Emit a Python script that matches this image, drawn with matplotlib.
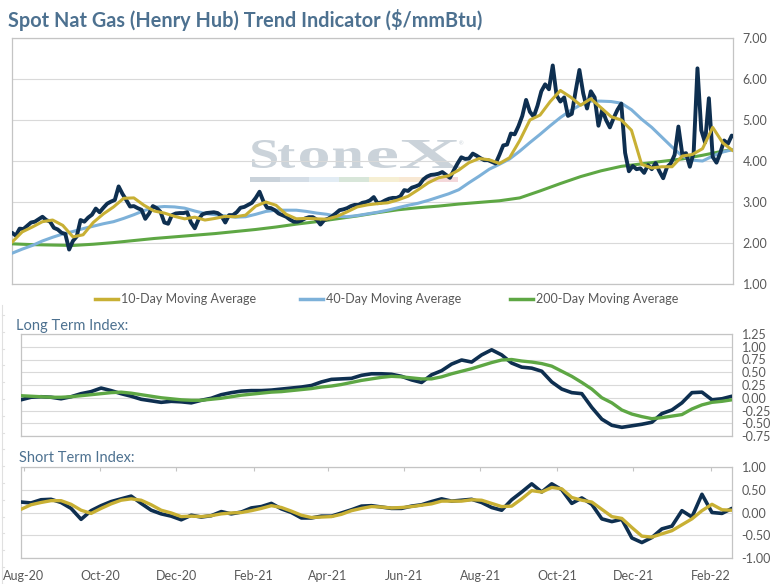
import numpy as np
import pandas as pd
import matplotlib
matplotlib.use('Agg')
import matplotlib.pyplot as plt
import matplotlib.dates as mdates
from matplotlib.ticker import FormatStrFormatter
from matplotlib.textpath import TextPath
from matplotlib.patches import PathPatch, Rectangle
from matplotlib.font_manager import FontProperties
from matplotlib.transforms import Affine2D
from matplotlib.lines import Line2D

plt.rcParams['font.family'] = ['Lato', 'DejaVu Sans']
plt.rcParams['axes.unicode_minus'] = False

# ---------------- data ----------------
START = '2020-07-30'
END = '2022-02-18'

title = 'Spot Nat Gas (Henry Hub) Trend Indicator ($/mmBtu)'
series_names = ['10-Day Moving Average', '40-Day Moving Average', '200-Day Moving Average']

# spot price, every 3 days
spot = [2.25, 2.18, 2.35, 2.34, 2.42, 2.5, 2.52, 2.58, 2.64, 2.56,
        2.52, 2.37, 2.33, 2.25, 2.22, 1.84, 2.05, 2.16, 2.56, 2.52,
        2.62, 2.69, 2.84, 2.75, 2.86, 2.96, 3.01, 3.05, 3.38, 3.2,
        3.05, 2.89, 2.9, 2.85, 2.81, 2.59, 2.72, 2.9, 2.85, 2.76,
        2.5, 2.47, 2.68, 2.72, 2.73, 2.73, 2.75, 2.5, 2.36, 2.58,
        2.7, 2.73, 2.74, 2.75, 2.73, 2.66, 2.5, 2.68, 2.68, 2.75,
        2.86, 2.88, 2.93, 2.98, 3.1, 3.25, 3.02, 2.86, 2.85, 2.8,
        2.72, 2.68, 2.64, 2.57, 2.52, 2.52, 2.55, 2.6, 2.63, 2.63,
        2.57, 2.45, 2.56, 2.59, 2.65, 2.72, 2.8, 2.82, 2.85, 2.9,
        2.93, 2.93, 2.98, 3.0, 3.04, 3.12, 2.97, 2.99, 3.04, 3.08,
        3.1, 3.1, 3.14, 3.29, 3.27, 3.35, 3.38, 3.42, 3.55, 3.62,
        3.66, 3.67, 3.69, 3.73, 3.66, 3.59, 3.77, 3.94, 4.09, 4.05,
        4.06, 4.18, 4.13, 4.07, 4.02, 4.02, 3.98, 3.94, 4.15, 4.38,
        4.4, 4.67, 4.65, 4.85, 5.1, 5.49, 5.2, 5.08, 5.35, 5.7,
        5.87, 5.75, 6.33, 5.6, 5.45, 5.55, 5.1, 5.15, 5.7, 6.22,
        5.65, 5.28, 5.7, 5.55, 4.86, 5.25, 5.0, 4.82, 5.05, 5.25,
        5.4, 4.2, 3.75, 3.88, 3.8, 3.82, 3.71, 3.9, 3.8, 3.95,
        3.75, 3.58, 3.85, 3.94, 4.15, 4.84, 4.17, 4.19, 3.86, 4.2,
        6.26, 4.75, 4.45, 5.53, 4.1, 3.96, 4.2, 4.5, 4.42, 4.62,
        4.58]

# moving averages, every 8 days
ma10 = [2.02, 2.27, 2.39, 2.52, 2.56, 2.43, 2.15, 2.2, 2.5, 2.71,
        2.88, 3.09, 3.1, 2.92, 2.78, 2.73, 2.65, 2.59, 2.63, 2.56,
        2.6, 2.65, 2.64, 2.68, 2.9, 3.0, 2.92, 2.7, 2.59, 2.6,
        2.59, 2.58, 2.65, 2.76, 2.88, 2.93, 2.96, 2.98, 3.05, 3.14,
        3.3, 3.47, 3.59, 3.64, 3.78, 3.96, 4.06, 4.03, 3.94, 4.08,
        4.5, 5.0, 5.12, 5.45, 5.72, 5.56, 5.36, 5.52, 5.3, 5.08,
        5.0, 4.75, 3.92, 3.83, 3.86, 3.86, 4.12, 4.16, 4.3, 4.82,
        4.44, 4.25]

ma40 = [1.75, 1.85, 1.94, 2.05, 2.14, 2.22, 2.28, 2.35, 2.41, 2.47,
        2.52, 2.6, 2.69, 2.79, 2.87, 2.89, 2.88, 2.85, 2.78, 2.72,
        2.69, 2.66, 2.63, 2.64, 2.7, 2.77, 2.8, 2.8, 2.8, 2.77,
        2.73, 2.7, 2.65, 2.64, 2.67, 2.71, 2.75, 2.8, 2.86, 2.92,
        2.97, 3.04, 3.12, 3.2, 3.3, 3.47, 3.63, 3.8, 3.92, 4.05,
        4.24, 4.45, 4.65, 4.86, 5.06, 5.23, 5.37, 5.46, 5.46, 5.45,
        5.41, 5.25, 5.02, 4.82, 4.58, 4.34, 4.12, 4.02, 4.0, 4.12,
        4.22, 4.28]

# 200-day average, every 16 days
ma200 = [1.98, 1.96, 1.95, 1.94, 1.97, 2.01, 2.06, 2.11, 2.15, 2.19,
         2.23, 2.28, 2.33, 2.39, 2.46, 2.52, 2.59, 2.66, 2.74, 2.81,
         2.86, 2.9, 2.95, 2.99, 3.03, 3.1, 3.27, 3.45, 3.62, 3.76,
         3.87, 3.93, 3.99, 4.05, 4.14, 4.24, 4.32]

# indices, every 8 days
long_idx = [-0.04, 0.01, 0.02, 0.01, -0.02, 0.02, 0.08, 0.12, 0.19, 0.14,
            0.08, 0.03, -0.03, -0.06, -0.09, -0.07, -0.08, -0.1, -0.05, -0.01,
            0.06, 0.1, 0.13, 0.14, 0.14, 0.15, 0.17, 0.19, 0.21, 0.24,
            0.31, 0.36, 0.37, 0.38, 0.44, 0.47, 0.47, 0.46, 0.42, 0.35,
            0.3, 0.45, 0.53, 0.66, 0.74, 0.7, 0.84, 0.94, 0.84, 0.68,
            0.6, 0.58, 0.52, 0.31, 0.17, 0.1, 0.08, -0.19, -0.42, -0.54,
            -0.58, -0.55, -0.52, -0.48, -0.31, -0.24, -0.1, 0.1, 0.11, -0.04,
            -0.02, 0.03]

long_sig = [0.04, 0.03, 0.02, 0.01, 0.01, 0.02, 0.04, 0.06, 0.08, 0.1,
            0.11, 0.09, 0.06, 0.03, 0.0, -0.02, -0.04, -0.05, -0.05, -0.03,
            -0.01, 0.02, 0.05, 0.07, 0.09, 0.11, 0.12, 0.14, 0.16, 0.18,
            0.21, 0.23, 0.26, 0.3, 0.34, 0.37, 0.4, 0.42, 0.41, 0.39,
            0.37, 0.37, 0.41, 0.47, 0.52, 0.57, 0.63, 0.69, 0.74, 0.75,
            0.72, 0.7, 0.67, 0.62, 0.52, 0.42, 0.3, 0.17, 0.0, -0.1,
            -0.24, -0.32, -0.37, -0.41, -0.39, -0.36, -0.33, -0.22, -0.14, -0.09,
            -0.07, -0.04]

short_idx = [0.23, 0.21, 0.28, 0.29, 0.22, 0.09, -0.15, 0.04, 0.15, 0.24,
             0.3, 0.36, 0.2, 0.05, -0.03, -0.08, -0.16, -0.06, -0.1, -0.07,
             0.02, -0.03, 0.01, 0.1, 0.13, 0.2, 0.08, 0.0, -0.12, -0.12,
             -0.08, -0.08, -0.01, 0.06, 0.14, 0.15, 0.12, 0.09, 0.09, 0.14,
             0.17, 0.24, 0.3, 0.25, 0.27, 0.29, 0.22, 0.11, 0.05, 0.28,
             0.45, 0.63, 0.45, 0.63, 0.5, 0.2, 0.32, 0.18, -0.14, -0.2,
             -0.15, -0.56, -0.66, -0.55, -0.36, -0.3, 0.04, -0.1, 0.4, 0.0,
             -0.02, 0.09]

short_sig = [0.07, 0.17, 0.22, 0.26, 0.26, 0.18, 0.05, -0.02, 0.09, 0.19,
             0.27, 0.3, 0.27, 0.17, 0.05, -0.01, -0.09, -0.08, -0.09, -0.07,
             -0.03, -0.01, 0.0, 0.04, 0.09, 0.15, 0.11, 0.03, -0.06, -0.11,
             -0.1, -0.09, -0.04, 0.04, 0.09, 0.13, 0.12, 0.1, 0.11, 0.13,
             0.16, 0.19, 0.25, 0.25, 0.25, 0.28, 0.27, 0.2, 0.13, 0.14,
             0.3, 0.48, 0.45, 0.55, 0.52, 0.33, 0.27, 0.23, 0.07, -0.09,
             -0.13, -0.33, -0.52, -0.54, -0.47, -0.4, -0.27, -0.14, 0.04, 0.18,
             0.06, 0.05]

spot_dates = pd.date_range(START, periods=len(spot), freq='3D')
ma_dates = pd.date_range(START, periods=len(ma10), freq='8D')
ma200_dates = pd.date_range(START, periods=len(ma200), freq='16D')
idx_dates = pd.date_range(START, periods=len(long_idx), freq='8D')

# ---------------- style ----------------
NAVY = '#0e2f50'
GOLD = '#c8b034'
LBLUE = '#7db1d9'
GREEN = '#5ea744'
TXT = '#595959'
TITLE_C = '#4d7190'
GRID = '#d9d9d9'
SPINE = '#c4c4c4'

W, H = 784, 584
def fx(px):
    return px / W
def fy(py):
    return 1 - py / H

fig = plt.figure(figsize=(W / 100, H / 100), dpi=100)

def box(l, t, r, b):
    return [fx(l), fy(b), (r - l) / W, (b - t) / H]

ax1 = fig.add_axes(box(12, 38, 733, 284))
ax2 = fig.add_axes(box(21, 334, 732, 436))
ax3 = fig.add_axes(box(21, 467, 732, 558))

def style(ax, lo, hi, ticks):
    ax.set_xlim(pd.Timestamp(START), pd.Timestamp(END))
    ax.set_ylim(lo, hi)
    ax.yaxis.tick_right()
    ax.set_yticks(ticks)
    ax.yaxis.set_major_formatter(FormatStrFormatter('%.2f'))
    ax.tick_params(axis='y', length=0, pad=7, labelsize=9, labelcolor=TXT)
    ax.grid(axis='y', color=GRID, lw=0.8)
    ax.set_axisbelow(True)
    for s in ax.spines.values():
        s.set_color(SPINE)
        s.set_linewidth(0.9)

style(ax1, 1, 7, np.arange(1, 7.01, 1))
style(ax2, -0.75, 1.25, np.arange(-0.75, 1.26, 0.25))
style(ax3, -1, 1, np.arange(-1, 1.01, 0.5))

for ax in (ax1, ax2):
    ax.tick_params(axis='x', bottom=False, labelbottom=False)

ax3.xaxis.set_major_locator(mdates.MonthLocator(bymonth=[2, 4, 6, 8, 10, 12]))
ax3.xaxis.set_major_formatter(mdates.DateFormatter('%b-%y'))
ax3.tick_params(axis='x', bottom=False, top=True, direction='in', length=3,
                color=SPINE, labelbottom=True, labelsize=9, labelcolor=TXT, pad=9)

# lines
kw = dict(solid_joinstyle='round', solid_capstyle='round')
ax1.plot(ma200_dates, ma200, color=GREEN, lw=2.2, zorder=3, **kw)
ax1.plot(ma_dates, ma40, color=LBLUE, lw=2.2, zorder=4, **kw)
ax1.plot(spot_dates, spot, color=NAVY, lw=2.8, zorder=5, **kw)
ax1.plot(ma_dates, ma10, color=GOLD, lw=2.2, zorder=6, **kw)

ax2.plot(idx_dates, long_idx, color=NAVY, lw=2.6, zorder=3, **kw)
ax2.plot(idx_dates, long_sig, color=GREEN, lw=2.4, zorder=4, **kw)

ax3.plot(idx_dates, short_idx, color=NAVY, lw=2.6, zorder=3, **kw)
ax3.plot(idx_dates, short_sig, color=GOLD, lw=2.4, zorder=4, **kw)

# watermark
fp = FontProperties(family='Liberation Serif', weight='bold')
letters = [('S', 252, 277, 140, 168), ('t', 278, 295, 145, 168),
           ('o', 300, 328, 148, 168), ('n', 333, 363, 148, 168),
           ('e', 368, 397, 148, 168), ('X', 400, 460, 140, 168)]
for ch, x0, x1, y0, y1 in letters:
    tp = TextPath((0, 0), ch, size=100, prop=fp)
    ext = tp.get_extents()
    tr = (Affine2D().translate(-ext.x0, -ext.y0)
          .scale((x1 - x0) / ext.width / W, (y1 - y0) / ext.height / H)
          .translate(fx(x0), fy(y1)))
    ax1.add_artist(PathPatch(tr.transform_path(tp), transform=fig.transFigure,
                             facecolor='#cbd3da', edgecolor='none', zorder=0.3))
fig.text(fx(459), fy(144), '®', fontsize=4, color='#cbd3da', ha='left', va='center')
bar_colors = ['#c9d2da', '#d4dde6', '#e2ecf4', '#d8e6d9', '#f6efd3', '#f8e8d3', '#f4d8da']
seg = 208 / len(bar_colors)
for i, c in enumerate(bar_colors):
    ax1.add_artist(Rectangle((fx(250 + i * seg), fy(182)), seg / W, 5 / H,
                             transform=fig.transFigure, facecolor=c,
                             edgecolor='none', zorder=0.3))

# titles
fig.text(fx(8), fy(20), title, fontsize=14.3, fontweight='bold', color=TITLE_C,
         ha='left', va='center')
fig.text(fx(16), fy(326), 'Long Term Index:', fontsize=10.5, color=TITLE_C,
         ha='left', va='center')
fig.text(fx(19), fy(458), 'Short Term Index:', fontsize=10.5, color=TITLE_C,
         ha='left', va='center')

# legend
for name, c, x0 in zip(series_names, [GOLD, LBLUE, GREEN], [95, 300, 510]):
    fig.add_artist(Line2D([fx(x0), fx(x0 + 23)], [fy(299), fy(299)], color=c, lw=2.5))
    fig.text(fx(x0 + 26), fy(299), name, fontsize=9, color=TXT, ha='left', va='center')

# faint outer axis line on the left
fig.add_artist(Line2D([fx(1.5), fx(1.5)], [fy(305), fy(584)], color='#e0e0e0', lw=0.8))
for ty in np.arange(315, 584, 16.8):
    fig.add_artist(Line2D([fx(1.5), fx(4)], [fy(ty), fy(ty)], color='#e0e0e0', lw=0.8))

fig.savefig('out.png', dpi=100, facecolor='white')
